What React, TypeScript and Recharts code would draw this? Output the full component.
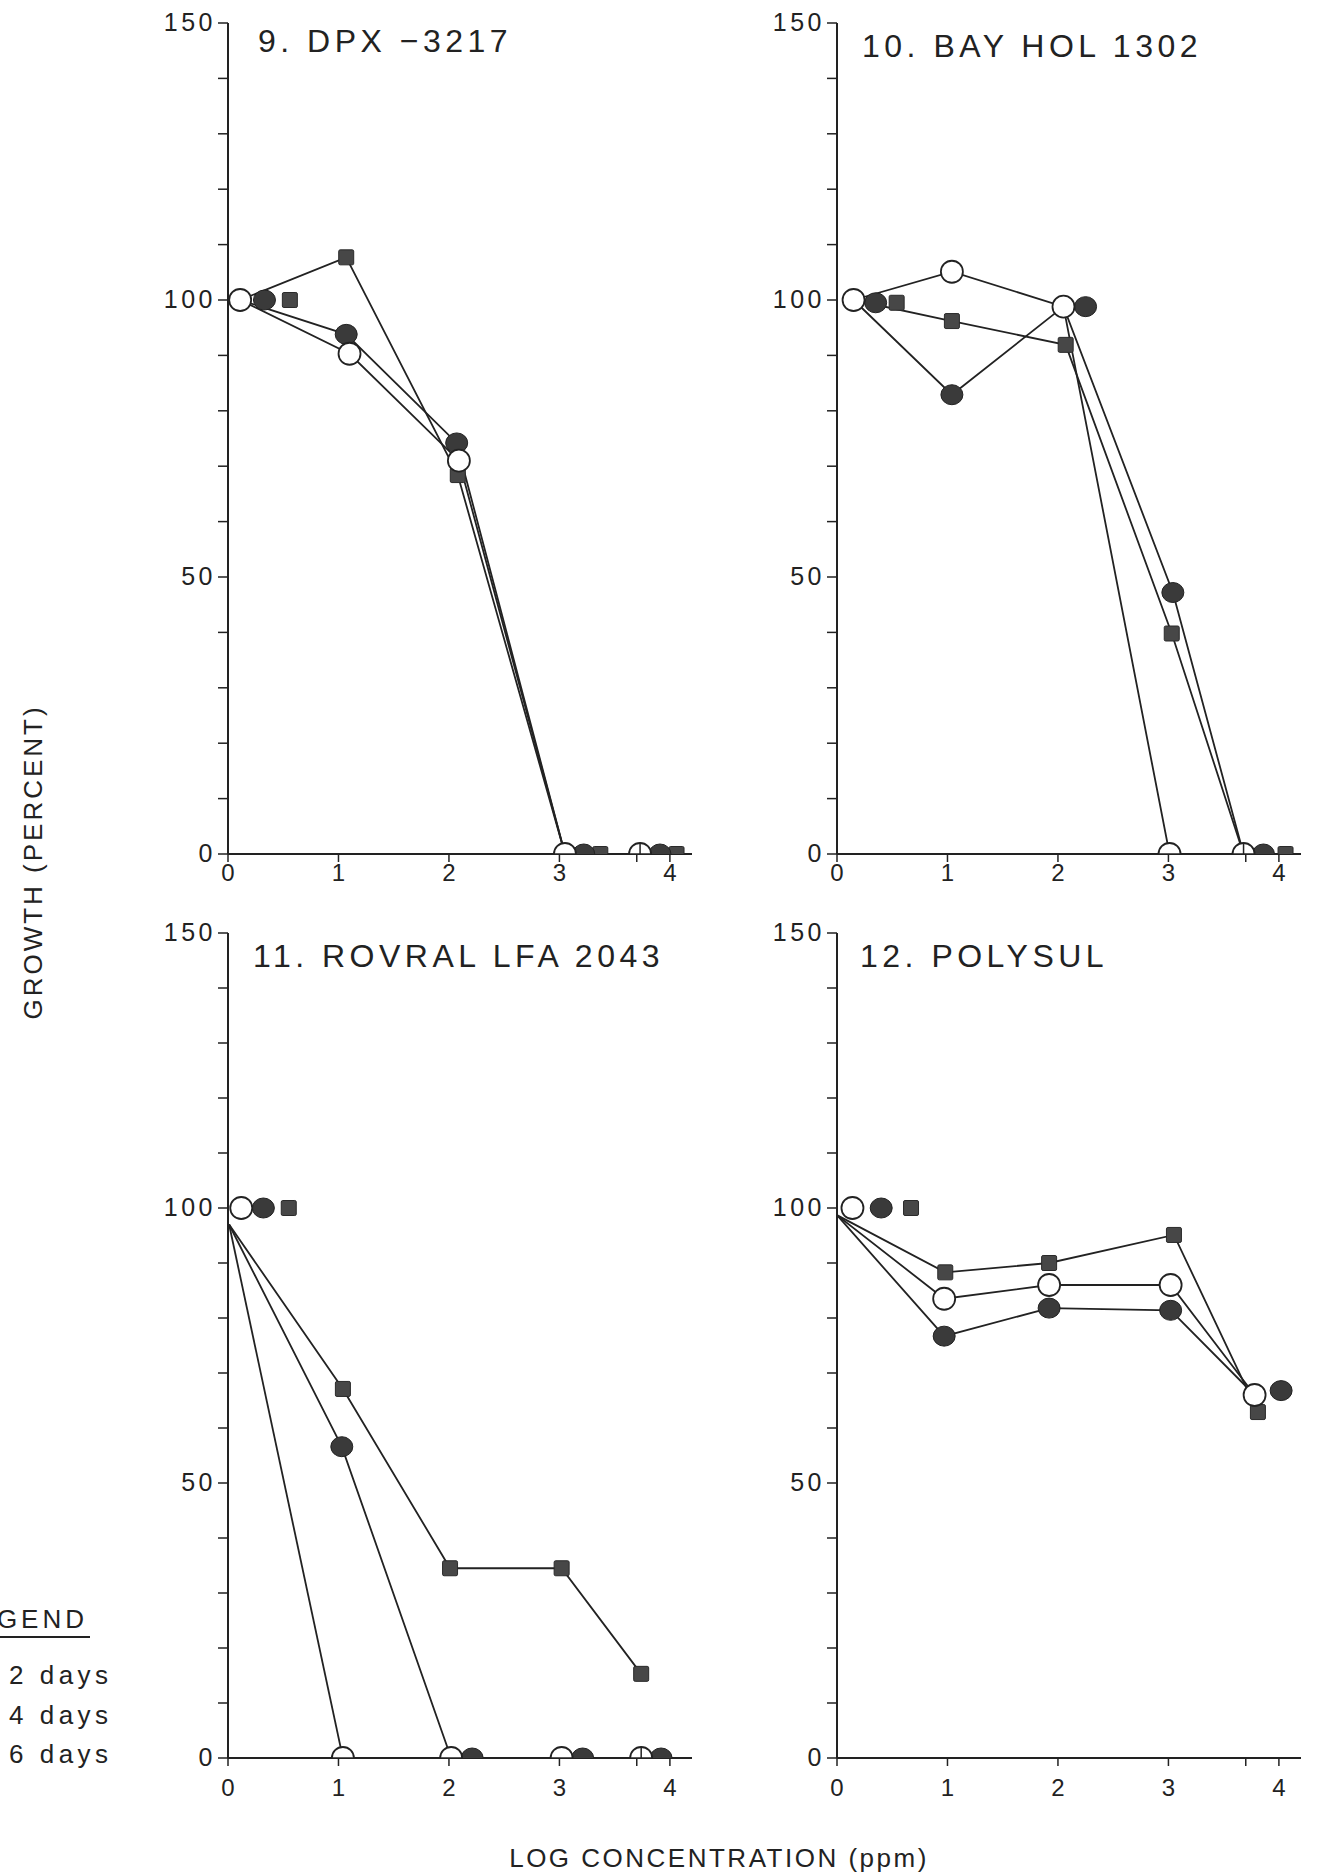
import React from "react";
import { ScatterChart, Scatter, XAxis, YAxis } from "recharts";

type Pt = [number, number];

// axis ticks / labels
const xTicks = [0, 1, 2, 3, 3.7, 4];
const yTicks = [0, 10, 20, 30, 40, 50, 60, 70, 80, 90, 100, 110, 120, 130, 140, 150];
const yLabelStep = 50;

const titles = ["9. DPX \u22123217", "10. BAY HOL 1302", "11. ROVRAL LFA 2043", "12. POLYSUL"];
const legendTitle = "LEGEND";
const legendDays = ["2 days", "4 days", "6 days"];
const yTitle = "GROWTH (PERCENT)";
const xTitle = "LOG CONCENTRATION (ppm)";

// [log conc as plotted, growth %]
// 9. DPX-3217
const dpx2Line: Pt[] = [[0.11, 100], [1.1, 90.3], [2.09, 71], [3.05, 0]];
const dpx4Line: Pt[] = [[0.11, 100], [1.07, 93.8], [2.07, 74.2], [3.05, 0]];
const dpx6Line: Pt[] = [[0.11, 100], [1.07, 107.7], [2.08, 68.4], [3.05, 0]];
const dpx2Marks: Pt[] = [[0.11, 100], [1.1, 90.3], [2.09, 71], [3.05, 0], [3.73, 0]];
const dpx4Marks: Pt[] = [[0.33, 100], [1.07, 93.8], [2.07, 74.2], [3.22, 0], [3.91, 0]];
const dpx6Marks: Pt[] = [[0.56, 100], [1.07, 107.7], [2.08, 68.4], [3.37, 0], [4.06, 0]];

// 10. BAY HOL 1302
const bay2Line: Pt[] = [[0.15, 100], [1.04, 105.1], [2.05, 98.8], [3.01, 0]];
const bay4Line: Pt[] = [[0.15, 100], [1.04, 82.9], [2.05, 98.8], [3.04, 47.2], [3.68, 0]];
const bay6Line: Pt[] = [[0.15, 100], [1.04, 96.2], [2.07, 91.9], [3.03, 39.8], [3.68, 0]];
const bay2Marks: Pt[] = [[0.15, 100], [1.04, 105.1], [2.05, 98.8], [3.01, 0], [3.68, 0]];
const bay4Marks: Pt[] = [[0.35, 99.5], [1.04, 82.9], [2.25, 98.8], [3.04, 47.2], [3.86, 0]];
const bay6Marks: Pt[] = [[0.54, 99.5], [1.04, 96.2], [2.07, 91.9], [3.03, 39.8], [4.06, 0]];

// 11. ROVRAL LFA 2043
const rov2Line: Pt[] = [[0.01, 97], [1.04, 0]];
const rov4Line: Pt[] = [[0.01, 97], [1.03, 56.6], [2.02, 0]];
const rov6Line: Pt[] = [[0.01, 97], [1.04, 67.1], [2.01, 34.5], [3.02, 34.5], [3.74, 15.3]];
const rov2Marks: Pt[] = [[0.12, 100], [1.04, 0], [2.02, 0], [3.02, 0], [3.74, 0]];
const rov4Marks: Pt[] = [[0.32, 100], [1.03, 56.6], [2.21, 0], [3.21, 0], [3.92, 0]];
const rov6Marks: Pt[] = [[0.55, 100], [1.04, 67.1], [2.01, 34.5], [3.02, 34.5], [3.74, 15.3]];

// 12. POLYSUL
const pol2Line: Pt[] = [[0, 98.7], [0.97, 83.5], [1.92, 86], [3.02, 86], [3.78, 66]];
const pol4Line: Pt[] = [[0, 98.7], [0.97, 76.7], [1.92, 81.8], [3.02, 81.4], [3.78, 66]];
const pol6Line: Pt[] = [[0, 98.7], [0.98, 88.3], [1.92, 90], [3.05, 95.1], [3.81, 62.9]];
const pol2Marks: Pt[] = [[0.14, 100], [0.97, 83.5], [1.92, 86], [3.02, 86], [3.78, 66]];
const pol4Marks: Pt[] = [[0.4, 100], [0.97, 76.7], [1.92, 81.8], [3.02, 81.4], [4.02, 66.8]];
const pol6Marks: Pt[] = [[0.67, 100], [0.98, 88.3], [1.92, 90], [3.05, 95.1], [3.81, 62.9]];

const panels = [
  { title: titles[0], lines: [dpx2Line, dpx4Line, dpx6Line], marks: [dpx2Marks, dpx4Marks, dpx6Marks] },
  { title: titles[1], lines: [bay2Line, bay4Line, bay6Line], marks: [bay2Marks, bay4Marks, bay6Marks] },
  { title: titles[2], lines: [rov2Line, rov4Line, rov6Line], marks: [rov2Marks, rov4Marks, rov6Marks] },
  { title: titles[3], lines: [pol2Line, pol4Line, pol6Line], marks: [pol2Marks, pol4Marks, pol6Marks] },
];

// page layout (plot area of each panel)
const layout = [
  { left: 228, top: 23, h: 831, titleX: 258, titleY: 52, labelDy: 15 },
  { left: 837, top: 23, h: 831, titleX: 862, titleY: 57, labelDy: 15 },
  { left: 228, top: 933, h: 825, titleX: 253, titleY: 967, labelDy: 26 },
  { left: 837, top: 933, h: 825, titleX: 860, titleY: 967, labelDy: 26 },
];

const PLOT_W = 464;
const YW = 70;
const MT = 20;
const MR = 20;
const XH = 50;

const INK = "#222";
const FONT = '"Liberation Sans", Arial, Helvetica, sans-serif';

const pts = (a: Pt[]) => a.map(([x, y]) => ({ x, y }));

const NoDot = () => <g />;

const OpenDot = (p: any) => {
  const { cx, cy, payload } = p;
  const onAxis = payload && payload.y === 0;
  return (
    <g>
      <circle cx={cx} cy={cy} r={11} fill="#fff" stroke={INK} strokeWidth={1.8} />
      {onAxis && <line x1={cx - 11} x2={cx + 11} y1={cy} y2={cy} stroke={INK} strokeWidth={1.5} />}
      {onAxis && (
        <line x1={cx} x2={cx} y1={payload.x > 3.5 ? cy - 11 : cy} y2={cy + 11} stroke={INK} strokeWidth={1.5} />
      )}
    </g>
  );
};

const FilledDot = (p: any) => (
  <ellipse cx={p.cx} cy={p.cy} rx={11} ry={10} fill="#3a3a3a" stroke="#222" strokeWidth={1} />
);

const SquareDot = (p: any) => (
  <rect x={p.cx - 7.5} y={p.cy - 7.5} width={15} height={15} rx={1.5} fill="#474747" stroke="#2a2a2a" strokeWidth={1} />
);

const shapes = [OpenDot, FilledDot, SquareDot];

const YTick = (props: any) => {
  const { x, y, payload } = props;
  if (payload.value % yLabelStep !== 0) return <g />;
  return (
    <text x={x} y={y} dy={8} textAnchor="end" fontSize={25} letterSpacing={3.5} fill={INK} fontFamily={FONT}>
      {payload.value}
    </text>
  );
};

const XTick = (props: any) => {
  const { x, y, payload, labelDy } = props;
  if (payload.value !== Math.round(payload.value)) return <g />;
  return (
    <text x={x} y={y} dy={labelDy} textAnchor="middle" fontSize={24} fill={INK} fontFamily={FONT}>
      {payload.value}
    </text>
  );
};

function Panel({ idx }: { idx: number }) {
  const p = panels[idx];
  const l = layout[idx];
  const w = YW + PLOT_W + MR;
  const h = MT + l.h + XH;
  return (
    <div style={{ position: "absolute", left: l.left - YW, top: l.top - MT }}>
      <ScatterChart width={w} height={h} margin={{ top: MT, right: MR, bottom: 0, left: 0 }}>
        <XAxis
          type="number"
          dataKey="x"
          domain={[0, 4.2]}
          ticks={xTicks}
          allowDataOverflow
          height={XH}
          tickSize={8}
          tickMargin={4}
          axisLine={{ stroke: INK, strokeWidth: 2 }}
          tickLine={{ stroke: INK, strokeWidth: 1.5 }}
          tick={<XTick labelDy={l.labelDy} />}
        />
        <YAxis
          type="number"
          dataKey="y"
          domain={[0, 150]}
          ticks={yTicks}
          allowDataOverflow
          width={YW}
          tickSize={10}
          tickMargin={2}
          axisLine={{ stroke: INK, strokeWidth: 2 }}
          tickLine={{ stroke: INK, strokeWidth: 1.5 }}
          tick={<YTick />}
        />
        {p.lines.map((ln, i) => (
          <Scatter
            key={"l" + i}
            data={pts(ln)}
            line={{ stroke: INK, strokeWidth: 1.8 }}
            shape={NoDot}
            isAnimationActive={false}
          />
        ))}
        {[2, 1, 0].map((i) => (
          <Scatter key={"m" + i} data={pts(p.marks[i])} shape={shapes[i]} isAnimationActive={false} />
        ))}
      </ScatterChart>
    </div>
  );
}

export default function App() {
  return (
    <div
      style={{
        position: "absolute",
        left: 0,
        top: 0,
        width: 1317,
        height: 1876,
        background: "#fff",
        overflow: "hidden",
        fontFamily: FONT,
      }}
    >
      {panels.map((_, i) => (
        <Panel key={i} idx={i} />
      ))}
      <svg
        width={1317}
        height={1876}
        style={{ position: "absolute", left: 0, top: 0, pointerEvents: "none" }}
        fontFamily={FONT}
        fill={INK}
      >
        {layout.map((l, i) => (
          <text key={i} x={l.titleX} y={l.titleY} fontSize={32} letterSpacing={4.5}>
            {panels[i].title}
          </text>
        ))}
        <text transform="translate(42,862) rotate(-90)" textAnchor="middle" fontSize={26} letterSpacing={3}>
          {yTitle}
        </text>
        <text x={719} y={1867} textAnchor="middle" fontSize={26} letterSpacing={2.5}>
          {xTitle}
        </text>
        <text x={88} y={1628} textAnchor="end" fontSize={26} letterSpacing={4}>
          {legendTitle}
        </text>
        <line x1={-20} x2={90} y1={1637} y2={1637} stroke={INK} strokeWidth={2} />
        {legendDays.map((d, i) => (
          <text key={d} x={9} y={1684 + i * 39.5} fontSize={26} letterSpacing={4.5}>
            {d}
          </text>
        ))}
      </svg>
    </div>
  );
}
